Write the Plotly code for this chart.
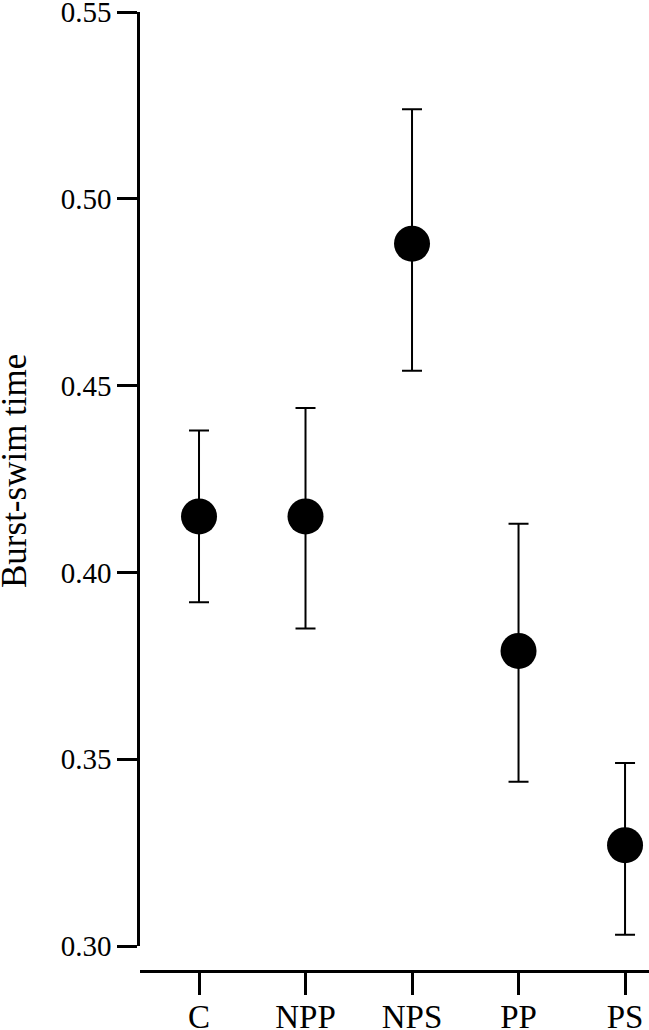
import plotly.graph_objects as go

# group labels and burst-swim time (mean with lower / upper limits of the error bar)
groups = ["C", "NPP", "NPS", "PP", "PS"]
means = [0.415, 0.415, 0.488, 0.379, 0.327]
upper = [0.438, 0.444, 0.524, 0.413, 0.349]
lower = [0.392, 0.385, 0.454, 0.344, 0.303]

y_ticks = [0.30, 0.35, 0.40, 0.45, 0.50, 0.55]

x_pos = list(range(len(groups)))
err_plus = [u - m for u, m in zip(upper, means)]
err_minus = [m - l for m, l in zip(means, lower)]

fig = go.Figure()

fig.add_trace(go.Scatter(
    x=x_pos,
    y=means,
    mode="markers",
    marker=dict(size=36, color="black"),
    error_y=dict(
        type="data",
        symmetric=False,
        array=err_plus,
        arrayminus=err_minus,
        color="black",
        thickness=2,
        width=10,
    ),
    showlegend=False,
))

font_family = "Liberation Serif"

fig.update_layout(
    width=649,
    height=1030,
    margin=dict(l=140, r=0, t=12, b=59),
    plot_bgcolor="white",
    paper_bgcolor="white",
    font=dict(family=font_family, color="black"),
    xaxis=dict(
        range=[-0.554, 4.225],
        tickmode="array",
        tickvals=x_pos,
        ticktext=groups,
        showline=True,
        linecolor="black",
        linewidth=2.5,
        ticks="outside",
        ticklen=22,
        tickwidth=2.5,
        tickcolor="black",
        tickfont=dict(size=33, family=font_family),
        ticklabeloverflow="allow",
        ticklabelstandoff=-6,
        showgrid=False,
        zeroline=False,
        anchor="free",
        position=0,
        automargin=False,
    ),
    yaxis=dict(
        domain=[0.026, 1],
        range=[0.30, 0.55],
        tickmode="array",
        tickvals=y_ticks,
        tickformat=".2f",
        showline=True,
        linecolor="black",
        linewidth=2.5,
        ticks="outside",
        ticklen=20,
        tickwidth=2.5,
        tickcolor="black",
        tickfont=dict(size=29, family=font_family),
        ticklabeloverflow="allow",
        showgrid=False,
        zeroline=False,
        automargin=False,
    ),
)

# y-axis title placed as a rotated annotation to the left of the tick labels
fig.add_annotation(
    text="Burst-swim time",
    textangle=-90,
    xref="paper", yref="paper",
    x=0, y=0.5214,
    xanchor="center", yanchor="middle",
    xshift=-125,
    showarrow=False,
    font=dict(size=35, family=font_family, color="black"),
)

# drop the browser's default 8px body margin so the figure fills the window,
# and hide the modebar
fig.write_html(
    "out.html",
    config={"displayModeBar": False},
    post_script="document.body.style.margin = '0';",
)
